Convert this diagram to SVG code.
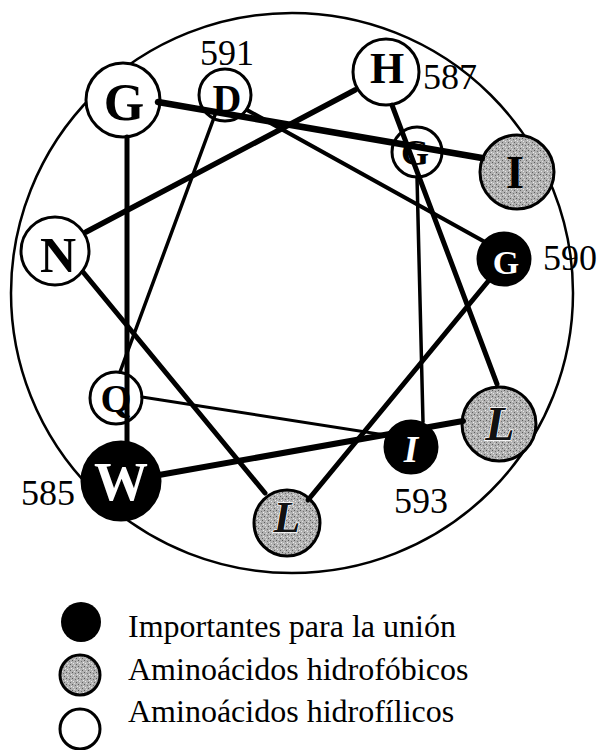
<svg xmlns="http://www.w3.org/2000/svg" width="600" height="750" viewBox="0 0 600 750">
<defs>
<pattern id="stip" width="6" height="6" patternUnits="userSpaceOnUse">
<rect width="6" height="6" fill="#b2b2b2"/>
<rect x="0" y="0" width="1" height="1" fill="#5a5a5a"/>
<rect x="3" y="1" width="1" height="1" fill="#707070"/>
<rect x="1" y="3" width="1" height="1" fill="#e6e6e6"/>
<rect x="4" y="4" width="1" height="1" fill="#606060"/>
<rect x="2" y="5" width="1" height="1" fill="#dcdcdc"/>
<rect x="5" y="2" width="1" height="1" fill="#ececec"/>
</pattern>
</defs>
<style>
.ring{fill:none;stroke:#000;stroke-width:2.5}
.w{fill:#fff;stroke:#000;stroke-width:3}
.g{fill:url(#stip);stroke:#000;stroke-width:3}
.b{fill:#000;stroke:#000;stroke-width:3}
.lt{font-family:"Liberation Serif","Times New Roman",serif;font-weight:bold;text-anchor:middle}
.dk{fill:#000}
.wt{fill:#fff}
.it{font-style:italic}
.ol{fill:#111;stroke:#fff;stroke-width:1.5;paint-order:stroke}
.num{font-family:"Liberation Serif","Times New Roman",serif;font-size:36px;fill:#000;text-anchor:middle}
.leg{font-family:"Liberation Serif","Times New Roman",serif;font-size:32px;fill:#000}
.c{stroke:#000;stroke-linecap:round;fill:none}
</style>
<ellipse class="ring" cx="292" cy="293" rx="281" ry="280"/>
<g id="nodes">
<g id="n583"><circle class="g" cx="517" cy="172" r="37"/><text class="lt dk" x="515" y="188" font-size="46">I</text></g>
<g id="n584"><circle class="w" cx="123" cy="100" r="37"/><text class="lt dk" x="124" y="120" font-size="52">G</text></g>
<g id="n585"><circle class="b" cx="121" cy="481" r="39"/><text class="lt wt" x="121" y="500" font-size="54">W</text></g>
<g id="n586"><circle class="g" cx="499" cy="424" r="37"/><text class="lt it ol" x="500" y="440" font-size="48">L</text></g>
<g id="n587"><circle class="w" cx="386" cy="72" r="33"/><text class="lt dk" x="387" y="83" font-size="44">H</text></g>
<g id="n588"><circle class="w" cx="55" cy="251" r="34"/><text class="lt dk" x="58" y="272" font-size="50">N</text></g>
<g id="n589"><circle class="g" cx="287" cy="523" r="33"/><text class="lt it ol" x="287" y="532" font-size="44">L</text></g>
<g id="n590"><circle class="b" cx="504" cy="259" r="26"/><text class="lt wt" x="506" y="274" font-size="34">G</text></g>
<g id="n591"><circle class="w" cx="225" cy="95" r="26"/><text class="lt dk" x="227" y="112" font-size="40">D</text></g>
<g id="n592"><circle class="w" cx="116" cy="398" r="26"/><text class="lt dk" x="116" y="412" font-size="40">Q</text></g>
<g id="n593"><circle class="b" cx="411" cy="447" r="26"/><text class="lt it wt" x="411" y="462" font-size="37">I</text></g>
<g id="n594"><circle class="w" cx="417" cy="152" r="25"/><text class="lt dk" x="415" y="165" font-size="36">G</text></g>
</g>
<g id="connectors">
<line class="c" x1="482" y1="158" x2="158" y2="102" stroke-width="6.5"/>
<line class="c" x1="127" y1="137" x2="127" y2="443" stroke-width="5"/>
<line class="c" x1="159" y1="475" x2="463" y2="421" stroke-width="6"/>
<line class="c" x1="497" y1="384" x2="392" y2="105" stroke-width="5"/>
<line class="c" x1="355" y1="90" x2="86" y2="232" stroke-width="5.5"/>
<line class="c" x1="83" y1="272" x2="265" y2="493" stroke-width="5"/>
<line class="c" x1="308" y1="500" x2="490" y2="279" stroke-width="5"/>
<line class="c" x1="485" y1="242" x2="247" y2="110" stroke-width="4"/>
<line class="c" x1="215" y1="115" x2="120" y2="372" stroke-width="3.5"/>
<line class="c" x1="142" y1="397" x2="385" y2="435" stroke-width="3"/>
<line class="c" x1="423" y1="422" x2="417" y2="177" stroke-width="3.5"/>
</g>
<g id="labels">
<text class="num" x="227" y="65">591</text>
<text class="num" x="450" y="89">587</text>
<text class="num" x="570" y="270">590</text>
<text class="num" x="421" y="513">593</text>
<text class="num" x="48" y="505">585</text>
</g>
<g id="legend">
<circle cx="81" cy="622" r="20" fill="#000"/>
<circle cx="80" cy="675" r="20" class="g"/>
<circle cx="80" cy="729" r="20" fill="#fff" stroke="#000" stroke-width="3"/>
<text class="leg" x="128" y="637">Importantes para la unión</text>
<text class="leg" x="128" y="680">Aminoácidos hidrofóbicos</text>
<text class="leg" x="128" y="722">Aminoácidos hidrofílicos</text>
</g>
</svg>
